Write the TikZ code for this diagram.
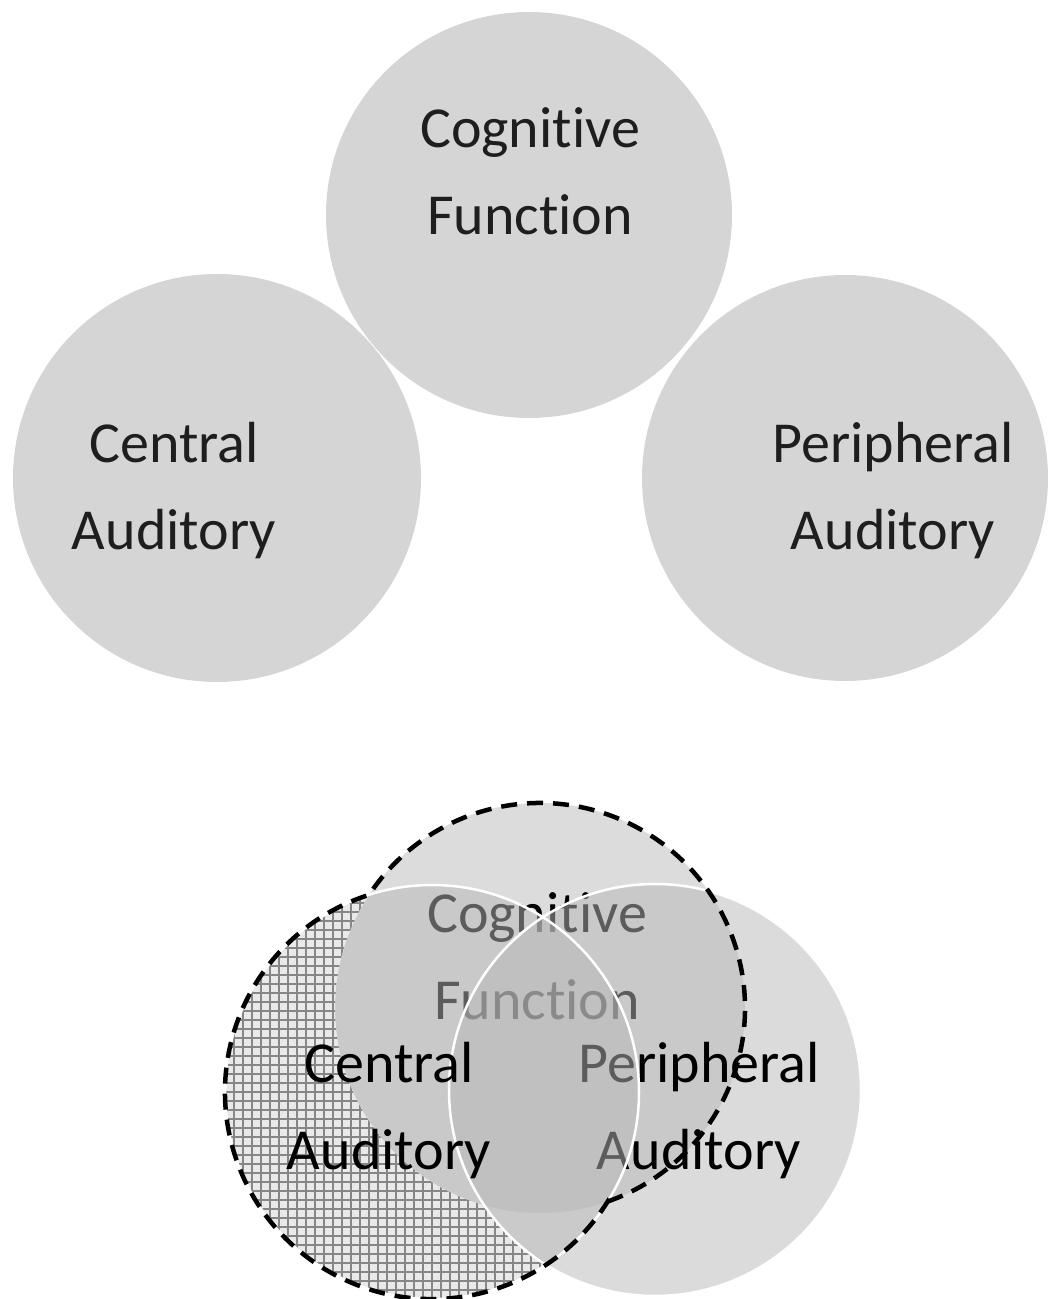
\documentclass[tikz,border=0pt]{standalone}
\usepackage{fontspec}
\setmainfont{Carlito}[Ligatures=NoCommon]
\usetikzlibrary{calc}
\definecolor{diskgray}{HTML}{D5D5D5}
\definecolor{topgray}{HTML}{DCDCDC}
\definecolor{layergray}{HTML}{B8B8B8}
\definecolor{hatchbg}{HTML}{E9E9E9}
\definecolor{hatchline}{HTML}{868686}
\definecolor{inkgray}{HTML}{1E1E1E}
\begin{document}
\begin{tikzpicture}[x=1pt,y=1pt,
  lbl/.style={align=center, font=\fontsize{58}{87}\selectfont, inner sep=0pt, anchor=base},
  disk/.style={fill=diskgray},
  layer/.style={fill=layergray, fill opacity=0.5},
  rim/.style={draw=white, line width=2.5pt},
  grid lines/.style={draw=hatchline, line width=1.4pt},
  outline/.style={draw=black, line width=4.5pt, dash pattern=on 16pt off 10pt}]
\useasboundingbox (0,0) rectangle (1051,1299);

% ---- separate circles ----
\coordinate (cogA) at (529,1084);
\coordinate (cenA) at (217,821);
\coordinate (perA) at (845,821);
\fill[disk] (cogA) circle[radius=203];
\fill[disk] (cenA) circle[radius=204];
\fill[disk] (perA) circle[radius=203];
% (base anchor sits on the last line of each label)
\node[lbl, text=inkgray] (cogtext) at (530,1064) {Cognitive\\Function};
\node[lbl, text=inkgray] (centext) at (174,749) {Central\\Auditory};
\node[lbl, text=inkgray] (pertext) at (893,749) {Peripheral\\Auditory};

% ---- overlapping circles ----
\coordinate (Tc) at (540,291);
\coordinate (Lc) at (432,207);
\coordinate (Rc) at (655,209);
\fill[topgray] (Tc) circle[radius=205];
\node[lbl, text=black] (cogB) at (537,279) {Cognitive\\Function};
\fill[layer] (Rc) circle[radius=206];
\node[lbl, text=black] (perB) at (699,129) {Peripheral\\Auditory};
\fill[layer] (Lc) circle[radius=207];

% cross-hatched part: left circle outside the other two
\begin{scope}[even odd rule]
  \clip (Lc) circle[radius=207];
  \clip (0,0) rectangle (1051,1299) (Tc) circle[radius=205];
  \clip (0,0) rectangle (1051,1299) (Rc) circle[radius=206];
  \fill[hatchbg] (200,0) rectangle (700,450);
  \draw[grid lines] (200,0) grid[step=9] (700,450);
\end{scope}

\draw[rim] (Rc) circle[radius=206];
\draw[rim] (Lc) circle[radius=207];
\node[lbl, text=black] (cenB) at (389,129) {Central\\Auditory};

% dashed boundary of the union of the top and left circles
\coordinate (P2) at ($(Tc)+(-70.7:205)$);
\draw[outline] (P2) arc[start angle=-70.7, end angle=146.5, radius=205]
  arc[start angle=107.7, end angle=328.1, radius=207] -- cycle;
\end{tikzpicture}
\end{document}
